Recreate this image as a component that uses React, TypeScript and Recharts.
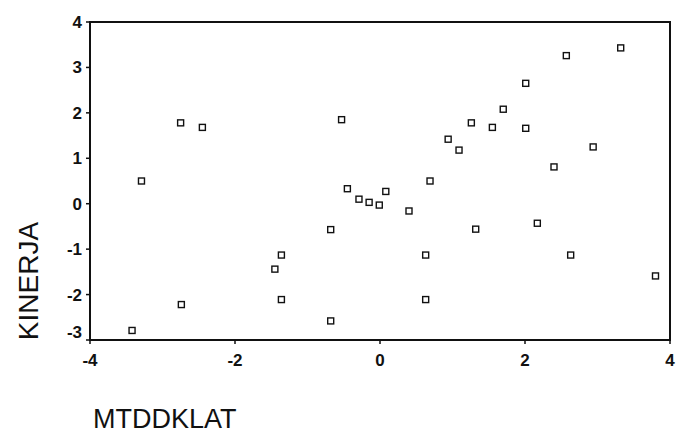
import React from 'react'
import {
  Label,
  ReferenceArea,
  Scatter,
  ScatterChart,
  XAxis,
  YAxis,
} from 'recharts'

// MTDDKLAT (x) vs KINERJA (y)
const mtddklat = [
  -2.75, -2.45, -3.29, -0.53,
  3.32, 2.57, 2.01, 1.7, 1.26, 1.55, 2.01, 0.94, 1.09, 2.94, 2.4, 0.69,
  -0.45, -0.29, -0.15, -0.01, 0.08, 0.4,
  -0.68, -1.36, -1.45, -1.36, -2.74, -3.42, -0.68,
  1.32, 2.17, 0.63, 2.63, 3.8, 0.63,
]
const kinerja = [
  1.78, 1.68, 0.5, 1.85,
  3.43, 3.26, 2.65, 2.08, 1.78, 1.68, 1.66, 1.42, 1.18, 1.25, 0.81, 0.5,
  0.33, 0.1, 0.03, -0.03, 0.27, -0.16,
  -0.57, -1.13, -1.44, -2.11, -2.22, -2.79, -2.58,
  -0.56, -0.43, -1.13, -1.13, -1.59, -2.11,
]
const xTicks = [-4, -2, 0, 2, 4]
const yTicks = [-3, -2, -1, 0, 1, 2, 3, 4]

const points = mtddklat.map((x, i) => ({ x, y: kinerja[i] }))

const FONT = '"Liberation Sans", Arial, sans-serif'

// open square marker like the SPSS default
function OpenSquare(props: { cx?: number; cy?: number }) {
  const { cx = 0, cy = 0 } = props
  return (
    <rect x={cx - 3} y={cy - 3} width={6} height={6} fill="#fff" stroke="#111" strokeWidth={1.4} />
  )
}

// tick mark + label drawn together (plain <line> marks did not show up in the screenshot)
function XTick(props: { x?: number; y?: number; payload?: { value: number } }) {
  const { x = 0, y = 0, payload } = props
  return (
    <g>
      <rect x={x - 0.75} y={y - 16} width={1.5} height={4} fill="#111" />
      <text x={x} y={y + 10} textAnchor="middle" fontSize={17} fontWeight={700} fontFamily={FONT} fill="#111">
        {payload?.value}
      </text>
    </g>
  )
}

function YTick(props: { x?: number; y?: number; payload?: { value: number } }) {
  const { x = 0, y = 0, payload } = props
  // the bottom label sits a little above its tick in the original, clear of the x axis
  const shift = payload?.value === -3 ? -8 : 0
  return (
    <g>
      <rect x={x + 6} y={y - 0.75} width={4} height={1.5} fill="#111" />
      <text
        x={x + 2}
        y={y + 6 + shift}
        textAnchor="end"
        fontSize={17}
        fontWeight={700}
        fontFamily={FONT}
        fill="#111"
      >
        {payload?.value}
      </text>
    </g>
  )
}

export default function App() {
  return (
    <div style={{ position: 'absolute', left: 0, top: 0, background: '#fff' }}>
      <ScatterChart width={678} height={437} margin={{ top: 22, right: 8, bottom: 67, left: 30 }}>
        <XAxis
          type="number"
          dataKey="x"
          domain={[-4, 4]}
          ticks={xTicks}
          tick={<XTick />}
          tickSize={4}
          tickMargin={12}
          height={30}
          axisLine={false}
          tickLine={false}
        >
          <Label
            content={() => (
              <text x={93} y={428} fontSize={27} fontFamily={FONT} fill="#111">
                MTDDKLAT
              </text>
            )}
          />
        </XAxis>
        <YAxis
          type="number"
          dataKey="y"
          domain={[-3, 4]}
          ticks={yTicks}
          tick={<YTick />}
          tickSize={4}
          tickMargin={6}
          width={60}
          axisLine={false}
          tickLine={false}
        >
          <Label
            content={() => (
              <text
                x={38}
                y={281}
                transform="rotate(-90 38 281)"
                textAnchor="middle"
                fontSize={28}
                fontFamily={FONT}
                fill="#111"
              >
                KINERJA
              </text>
            )}
          />
        </YAxis>
        {/* plot frame */}
        <ReferenceArea
          x1={-4}
          x2={4}
          y1={-3}
          y2={4}
          fill="none"
          fillOpacity={0}
          stroke="#111"
          strokeWidth={2}
          ifOverflow="visible"
        />
        <Scatter data={points} shape={<OpenSquare />} isAnimationActive={false} />
      </ScatterChart>
    </div>
  )
}
